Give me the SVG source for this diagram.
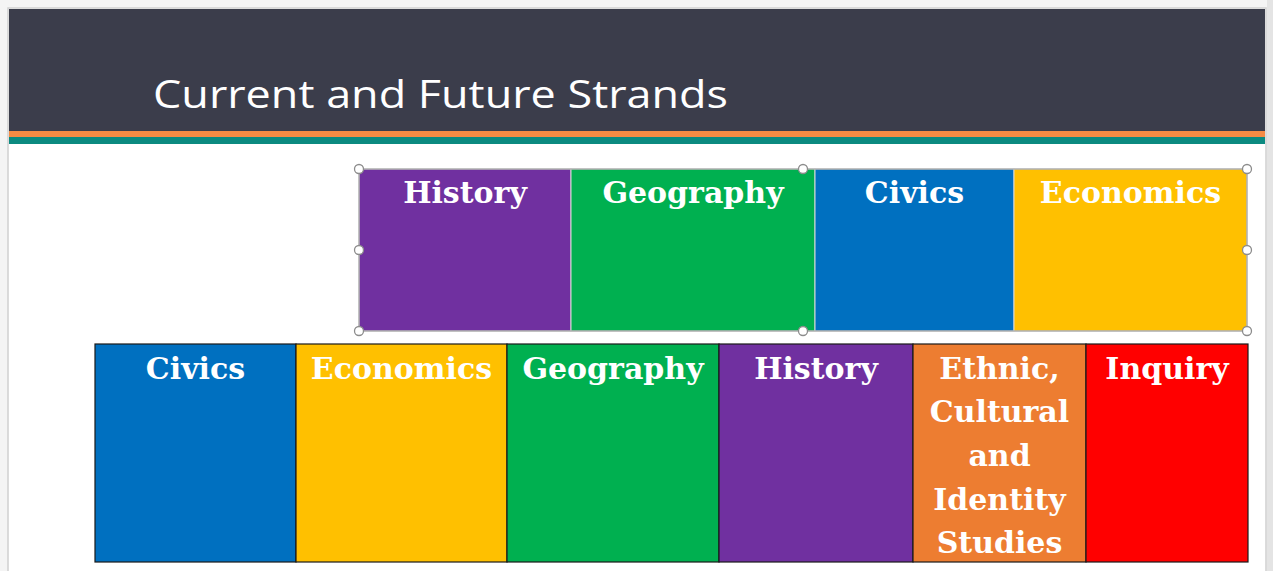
<svg xmlns="http://www.w3.org/2000/svg" width="1273" height="571" viewBox="0 0 1273 571">
  <style>
    .lbl { font-family: "DejaVu Serif", "Liberation Serif", serif; font-weight: bold; font-size: 30px; fill: #ffffff; text-anchor: middle; }
    .top { stroke: #d9d9d9; stroke-width: 1; }
    .bot { stroke: #1a1a1a; stroke-width: 1.2; }
    .handle { fill: #ffffff; stroke: #8c8c8c; stroke-width: 1.3; }
  </style>

  <!-- page background and slide frame -->
  <rect x="0" y="0" width="1273" height="571" fill="#f4f4f4"/>
  <rect x="1267" y="0" width="6" height="571" fill="#e4e4e4"/>
  <rect x="8" y="8" width="1258" height="570" fill="#ffffff" stroke="#cfcfcf" stroke-width="1.5"/>

  <!-- header band -->
  <g id="header">
    <rect x="9" y="9" width="1256" height="122" fill="#3b3d4b"/>
    <rect x="9" y="131" width="1256" height="6" fill="#f68b44"/>
    <rect x="9" y="137" width="1256" height="7" fill="#0c8a80"/>
    <text x="153" y="108" font-family="Open Sans, Noto Sans, sans-serif" font-size="39" fill="#ffffff" textLength="575" lengthAdjust="spacingAndGlyphs">Current and Future Strands</text>
  </g>

  <!-- current strands -->
  <g id="current-history">
    <rect class="top" x="359" y="169" width="212" height="162" fill="#7030a0"/>
    <text class="lbl" x="465" y="203">History</text>
  </g>
  <g id="current-geography">
    <rect class="top" x="571" y="169" width="244" height="162" fill="#00b050"/>
    <text class="lbl" x="693" y="203">Geography</text>
  </g>
  <g id="current-civics">
    <rect class="top" x="815" y="169" width="199" height="162" fill="#0070c0"/>
    <text class="lbl" x="914.5" y="203">Civics</text>
  </g>
  <g id="current-economics">
    <rect class="top" x="1014" y="169" width="233" height="162" fill="#ffc000"/>
    <text class="lbl" x="1130.5" y="203">Economics</text>
  </g>

  <!-- selection frame around the current strands -->
  <g id="selection">
    <rect x="359" y="169" width="888" height="162" fill="none" stroke="#a6a6a6" stroke-width="1.2"/>
    <circle class="handle" cx="359" cy="169" r="4.5"/>
    <circle class="handle" cx="803" cy="169" r="4.5"/>
    <circle class="handle" cx="1247" cy="169" r="4.5"/>
    <circle class="handle" cx="359" cy="250" r="4.5"/>
    <circle class="handle" cx="1247" cy="250" r="4.5"/>
    <circle class="handle" cx="359" cy="331" r="4.5"/>
    <circle class="handle" cx="803" cy="331" r="4.5"/>
    <circle class="handle" cx="1247" cy="331" r="4.5"/>
  </g>

  <!-- future strands -->
  <g id="future-civics">
    <rect class="bot" x="95" y="344" width="201" height="218" fill="#0070c0"/>
    <text class="lbl" x="195.5" y="379">Civics</text>
  </g>
  <g id="future-economics">
    <rect class="bot" x="296" y="344" width="211" height="218" fill="#ffc000"/>
    <text class="lbl" x="401.5" y="379">Economics</text>
  </g>
  <g id="future-geography">
    <rect class="bot" x="507" y="344" width="212" height="218" fill="#00b050"/>
    <text class="lbl" x="613" y="379">Geography</text>
  </g>
  <g id="future-history">
    <rect class="bot" x="719" y="344" width="194" height="218" fill="#7030a0"/>
    <text class="lbl" x="816" y="379">History</text>
  </g>
  <g id="future-ethnic">
    <rect class="bot" x="913" y="344" width="173" height="218" fill="#ed7d31"/>
    <text class="lbl" x="999.5" y="379">Ethnic,</text>
    <text class="lbl" x="999.5" y="422">Cultural</text>
    <text class="lbl" x="999.5" y="466">and</text>
    <text class="lbl" x="999.5" y="510">Identity</text>
    <text class="lbl" x="999.5" y="553">Studies</text>
  </g>
  <g id="future-inquiry">
    <rect class="bot" x="1086" y="344" width="162" height="218" fill="#ff0000"/>
    <text class="lbl" x="1167" y="379">Inquiry</text>
  </g>

  <!-- no connectors in this layout -->
  <g id="connectors"/>
</svg>
